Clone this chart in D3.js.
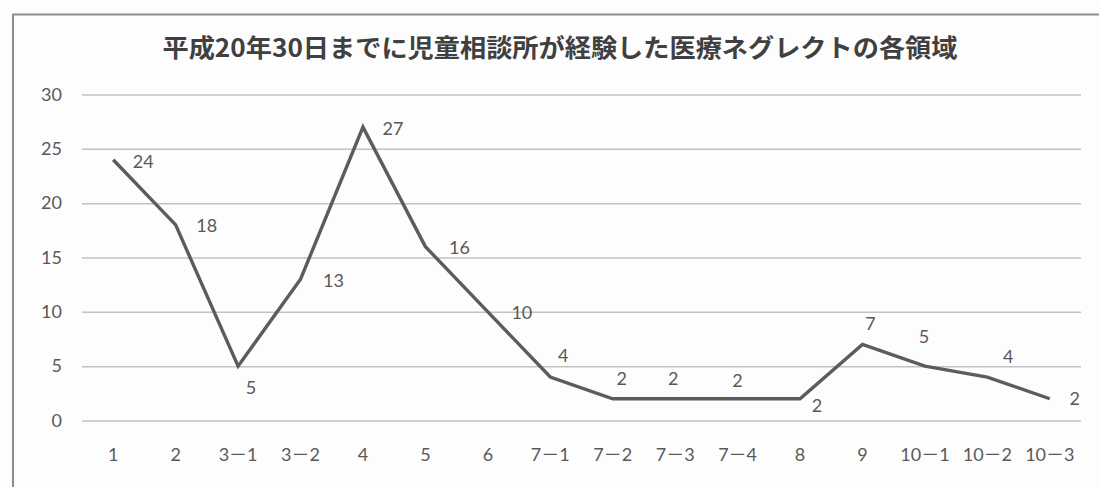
<!DOCTYPE html>
<html><head><meta charset="utf-8">
<script src="https://cdn.jsdelivr.net/npm/d3@7"></script>
<style>
html,body{margin:0;padding:0;background:#fdfdfd;}
svg{display:block;}
</style></head>
<body>
<svg id="chart" width="1099" height="487"></svg>
<script>
const title = "平成20年30日までに児童相談所が経験した医療ネグレクトの各領域";
const categories = ["1","2","3－1","3－2","4","5","6","7－1","7－2","7－3","7－4","8","9","10－1","10－2","10－3"];
const values = [24,18,5,13,27,16,10,4,2,2,2,2,7,5,4,2];
const yTicks = [0,5,10,15,20,25,30];
// label placement (style, not data): offsets of each value label from its point
const labelDx = [30,31,13,33,30,34,34,13,9,-2,0,17,8,-1,21,25];
const labelDy = [2,1,22,1,2,1,1,-21,-20,-20,-18,7,-21,-29,-20,0];

const svg = d3.select("#chart");
const W = 1099, H = 487;
const plot = {left:82, right:1081, top:94.5, bottom:420.5};
const textColor = "#595959";
const fontFam = "Lato, 'Noto Sans CJK JP', sans-serif";

// frame (scanned page border)
svg.append("rect").attr("x",0).attr("y",0).attr("width",W).attr("height",H).attr("fill","#fdfdfd");
svg.append("path").attr("d",`M13,${H} L13,14.5 L${W},14.5`).attr("fill","none")
  .attr("stroke","#8c8c8c").attr("stroke-width",2);

// title
svg.append("text").attr("x",560).attr("y",57).attr("text-anchor","middle")
  .attr("font-family","'Noto Sans CJK JP', sans-serif").attr("font-weight","bold")
  .attr("font-size",25).attr("fill","#404040")
  .attr("textLength",795).attr("lengthAdjust","spacingAndGlyphs")
  .text(title);

const x = d3.scaleBand().domain(categories).range([plot.left, plot.right]);
const y = d3.scaleLinear().domain([0,30]).range([plot.bottom, plot.top]);
const cx = d => x(d) + x.bandwidth()/2;

// gridlines + y axis labels
const yAxis = d3.axisLeft(y).tickValues(yTicks).tickSize(-(plot.right-plot.left)).tickPadding(20).tickFormat(d3.format("d"));
const gy = svg.append("g").attr("transform",`translate(${plot.left},0)`).call(yAxis);
gy.select(".domain").remove();
gy.selectAll(".tick line").attr("stroke","#c2c2c2").attr("stroke-width",1.5);
gy.selectAll(".tick text").attr("font-family",fontFam).attr("font-size",18).attr("fill",textColor)
  .attr("x",-20);

// x axis labels
const xAxis = d3.axisBottom(x).tickSize(0).tickPadding(28);
const gx = svg.append("g").attr("transform",`translate(0,${plot.bottom})`).call(xAxis);
gx.select(".domain").remove();
gx.selectAll(".tick text").attr("font-family",fontFam).attr("font-size",18).attr("fill",textColor);

// line
const line = d3.line().x((d,i)=>cx(categories[i])).y(d=>y(d));
svg.append("path").datum(values).attr("d",line).attr("fill","none")
  .attr("stroke","#5c5c5c").attr("stroke-width",3.4).attr("stroke-linejoin","miter");

// data labels
svg.append("g").selectAll("text").data(values).join("text")
  .attr("x",(d,i)=>cx(categories[i])+labelDx[i])
  .attr("y",(d,i)=>y(d)+labelDy[i])
  .attr("dy","0.35em").attr("text-anchor","middle")
  .attr("font-family",fontFam).attr("font-size",18).attr("fill",textColor)
  .text(d=>d);
</script>
</body></html>
